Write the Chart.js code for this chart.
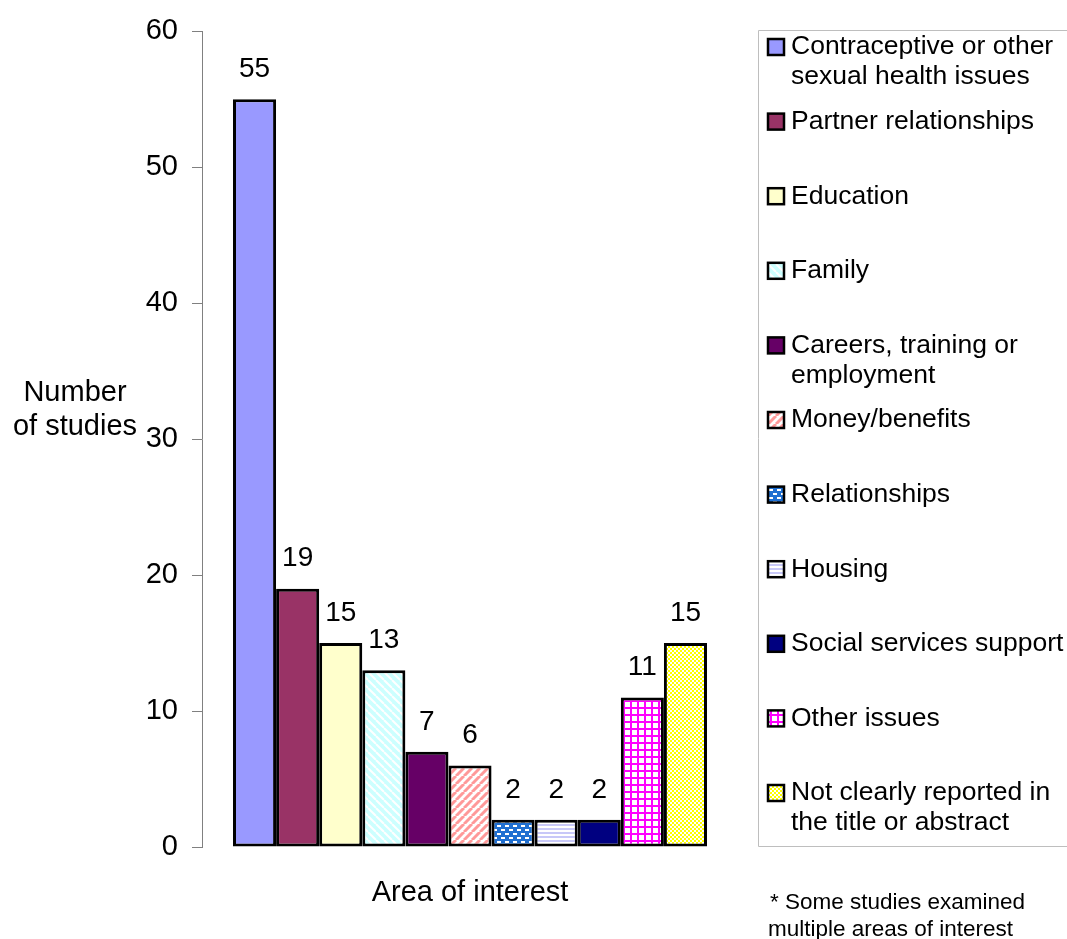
<!DOCTYPE html>
<html>
<head>
<meta charset="utf-8">
<script src="https://cdn.jsdelivr.net/npm/chart.js@4"></script>
<style>
  html, body { margin: 0; padding: 0; background: #fff; }
  #wrap { width: 1067px; height: 939px; position: relative; }
</style>
</head>
<body>
<div id="wrap"><canvas id="myChart" width="1067" height="939"></canvas></div>
<script>
const areas = [
    ['Contraceptive or other', 'sexual health issues'],
    ['Partner relationships'],
    ['Education'],
    ['Family'],
    ['Careers, training or', 'employment'],
    ['Money/benefits'],
    ['Relationships'],
    ['Housing'],
    ['Social services support'],
    ['Other issues'],
    ['Not clearly reported in', 'the title or abstract']
];
const studies = [55, 19, 15, 13, 7, 6, 2, 2, 2, 11, 15];
const yTicks = [0, 10, 20, 30, 40, 50, 60];

const FONT = '"Liberation Sans", Arial, sans-serif';

// small tiles for the Excel-style fills
function tile(w, h, draw) {
    const c = document.createElement('canvas');
    c.width = w; c.height = h;
    const g = c.getContext('2d');
    draw(g, w, h);
    return g.createPattern(c, 'repeat');
}

const fills = [
    '#9999FF',
    '#993366',
    '#FFFFCC',
    tile(8, 8, (g, w, h) => {
        g.fillStyle = '#CCFFFF'; g.fillRect(0, 0, w, h);
        g.strokeStyle = '#ffffff'; g.lineWidth = 2;
        for (let o = -8; o <= 8; o += 8) {
            g.beginPath(); g.moveTo(o, 0); g.lineTo(o + 8, 8); g.stroke();
        }
    }),
    '#660066',
    tile(8, 8, (g, w, h) => {
        g.fillStyle = '#ffffff'; g.fillRect(0, 0, w, h);
        g.strokeStyle = '#FF9999'; g.lineWidth = 3;
        for (let o = -8; o <= 16; o += 8) {
            g.beginPath(); g.moveTo(o, 8); g.lineTo(o + 8, 0); g.stroke();
        }
    }),
    tile(8, 8, (g, w, h) => {
        g.fillStyle = '#1F6FD1'; g.fillRect(0, 0, w, h);
        g.fillStyle = '#ffffff';
        g.fillRect(1, 1, 4, 2);
        g.fillRect(5, 5, 3, 2);
        g.fillRect(0, 5, 1, 2);
    }),
    tile(4, 4, (g, w, h) => {
        g.fillStyle = '#ffffff'; g.fillRect(0, 0, w, h);
        g.fillStyle = '#C8C8F8'; g.fillRect(0, 0, w, 2);
    }),
    '#000080',
    tile(7, 7, (g, w, h) => {
        g.fillStyle = '#ffffff'; g.fillRect(0, 0, w, h);
        g.fillStyle = '#FF00FF';
        g.fillRect(0, 0, w, 2);
        g.fillRect(0, 0, 2, h);
    }),
    tile(4, 4, (g, w, h) => {
        g.fillStyle = '#FFFF00'; g.fillRect(0, 0, w, h);
        g.fillStyle = '#ffffff';
        g.fillRect(0, 0, 2, 2);
        g.fillRect(2, 2, 2, 2);
    })
];

const valueLabels = {
    id: 'valueLabels',
    afterDatasetsDraw(chart) {
        const ctx = chart.ctx;
        ctx.save();
        ctx.fillStyle = '#000';
        ctx.font = '28px ' + FONT;
        ctx.textAlign = 'center';
        ctx.textBaseline = 'middle';
        chart.data.datasets.forEach((ds, i) => {
            const bar = chart.getDatasetMeta(i).data[0];
            ctx.fillText(String(ds.data[0]), bar.x, bar.y - 30);
        });
        ctx.restore();
    }
};

const sideText = {
    id: 'sideText',
    afterDraw(chart) {
        const ctx = chart.ctx;
        const area = chart.chartArea;
        ctx.save();
        ctx.fillStyle = '#000';
        ctx.textBaseline = 'middle';

        // axis titles
        ctx.font = '29px ' + FONT;
        ctx.textAlign = 'center';
        ctx.fillText('Number', 75, 393);
        ctx.fillText('of studies', 75, 427);
        ctx.fillText('Area of interest', (area.left + area.right) / 2, 893);

        // legend box
        const lx = 758, top = 30, bottom = 846;
        ctx.strokeStyle = '#BEBEBE';
        ctx.lineWidth = 1;
        ctx.beginPath();
        ctx.moveTo(1067, top + 0.5);
        ctx.lineTo(lx + 0.5, top + 0.5);
        ctx.lineTo(lx + 0.5, bottom + 0.5);
        ctx.lineTo(1067, bottom + 0.5);
        ctx.stroke();

        ctx.textAlign = 'left';
        ctx.font = '26.5px ' + FONT;
        areas.forEach((lines, i) => {
            const y = 47 + i * 74.6;
            ctx.fillStyle = fills[i];
            ctx.fillRect(768, y - 8, 16, 16);
            ctx.strokeStyle = '#000';
            ctx.lineWidth = 2.5;
            ctx.strokeRect(768, y - 8, 16, 16);
            ctx.fillStyle = '#000';
            lines.forEach((t, k) => ctx.fillText(t, 791, y + k * 30));
        });

        // footnote
        ctx.font = '22.5px ' + FONT;
        ctx.fillText('* Some studies examined', 770, 903);
        ctx.fillText('multiple areas of interest', 768, 930);
        ctx.restore();
    }
};

const data = {
    labels: [''],
    datasets: areas.map((name, i) => ({
        label: name.join(' '),
        data: [studies[i]],
        backgroundColor: fills[i],
        borderColor: '#000000',
        borderWidth: 3,
        borderSkipped: false,
        categoryPercentage: 474 / 536,
        barPercentage: 1
    }))
};

const config = {
    type: 'bar',
    data: data,
    options: {
        responsive: false,
        animation: false,
        events: [],
        layout: { padding: { left: 0, right: 329, top: 30, bottom: 92 } },
        plugins: {
            legend: { display: false },
            tooltip: { enabled: false }
        },
        scales: {
            x: { display: false },
            y: {
                min: 0,
                max: 60,
                afterFit(scale) { scale.width = 202; },
                afterBuildTicks(scale) { scale.ticks = yTicks.map(v => ({ value: v })); },
                ticks: {
                    color: '#000',
                    padding: 14,
                    font: { family: FONT, size: 29 }
                },
                grid: {
                    drawOnChartArea: false,
                    tickLength: 10,
                    tickColor: '#808080',
                    color: '#808080'
                },
                border: { color: '#808080', width: 1 }
            }
        }
    },
    plugins: [valueLabels, sideText]
};

const myChart = new Chart(document.getElementById('myChart'), config);
</script>
</body>
</html>
